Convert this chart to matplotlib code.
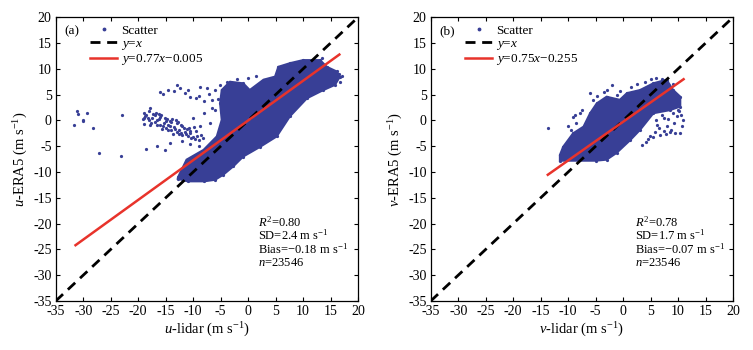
import matplotlib
matplotlib.use('Agg')
import matplotlib.pyplot as plt
from matplotlib.lines import Line2D

plt.rcParams['font.family'] = ['Liberation Serif', 'DejaVu Serif']
plt.rcParams['mathtext.fontset'] = 'custom'
plt.rcParams['mathtext.rm'] = 'Liberation Serif'
plt.rcParams['mathtext.it'] = 'Liberation Serif:italic'
plt.rcParams['axes.unicode_minus'] = False

# ---------------- data ----------------
ticks = [-35, -30, -25, -20, -15, -10, -5, 0, 5, 10, 15, 20]

# panel (a): dense core outline of u scatter
core_a_x = [-12.8, -12.7, -11.2, -8.1, -5.7, -4.8, -5.1, -4.8, -3.3, -0.9, 0.3, 2.8, 4.9, 5.5, 7.6,
            10.0, 13.1, 14.3, 16.1, 16.7, 15.8, 13.7, 10.7, 7.6, 5.2, 2.2, -0.9, -2.7, -4.5, -6.0,
            -8.0, -11.0]
core_a_y = [-11.3, -10.9, -7.6, -5.7, -3.1, 0.1, 3.3, 5.9, 7.5, 7.2, 5.9, 7.9, 8.5, 10.4, 11.1,
            11.7, 11.7, 10.4, 9.5, 8.5, 6.9, 5.9, 4.3, 0.8, -3.1, -5.1, -7.0, -8.9, -10.5, -11.5,
            -11.8, -11.8]
# panel (a): tongue of points left of the core
tongue_a_x = [-19.0, -19.0, -18.5, -18.0, -18.0, -17.5, -17.0, -17.0, -16.5, -16.0, -16.0, -15.5,
              -15.0, -15.0, -14.5, -14.0, -14.0, -13.5, -13.0, -13.0, -12.5, -12.0, -12.0, -11.5,
              -11.0, -17.8, -16.8, -15.8, -14.8, -13.8, -12.8, -10.5, -10.0, -9.5, -9.0, -8.5,
              -10.8, -9.8, -8.8, -18.7, -18.2, -17.3, -16.3, -15.3, -14.3, -13.3, -12.3, -11.3,
              -10.3, -9.3, -17.6, -16.6, -15.6, -14.6, -13.6, -12.6, -11.6, -10.6, -9.6, -8.2,
              -16.2, -15.2, -14.2, -13.2, -12.2, -11.2, -19.2, -18.9, -17.9]
tongue_a_y = [1.5, 0.5, 1.0, 0.0, 1.8, 0.5, -0.3, 1.0, 0.0, -0.8, 0.6, -1.0,
              -0.2, -1.5, -0.8, -1.8, -0.3, -1.2, -2.2, -0.5, -1.8, -2.8, -1.0, -2.2,
              -3.0, 2.4, 1.5, 1.0, 0.3, 0.2, -0.3, -2.5, -3.3, -2.0, -3.8, -2.8,
              -1.5, -1.2, -1.0, 0.9, 0.4, 1.3, 0.3, -0.5, -1.1, -1.6, -2.4, -2.6,
              -3.4, -3.0, -0.4, -0.9, -1.7, -1.9, -2.6, -2.6, -1.4, -2.0, -3.5, -3.4,
              1.2, 0.5, -0.1, 0.0, -0.8, -1.6, 0.2, -0.6, -0.9]
# panel (a): isolated points
pts_a_x = [-31.2, -30.9, -29.4, -30.0, -30.0, -31.7, -28.3, -23.0, -27.1, -23.1, -18.6, -16.5,
           -15.2, -14.2, -16.0, -14.5, -13.5, -12.4, -11.5, -10.5, -9.5, -8.7,
           -7.5, -6.6, -5.1, -3.8, -10.0, -8.0, -6.5, -7.0, -6.0, -5.5, -12.0, -10.5, -9.0,
           14.5, 15.2, 16.0, 16.6, 17.0, 15.5, 14.0, 16.8, 13.5, -2.0, 0.0, 1.5, -6.0, -7.2,
           -15.5, -13.0, -11.0, -9.0, -8.0]
pts_a_y = [1.9, 1.2, 1.5, 0.1, -0.2, -0.9, -1.4, 1.1, -6.3, -6.8, -5.5, -4.9,
           -5.8, -4.4, 5.6, 5.9, 5.7, 6.3, 5.4, 4.6, 4.3, 6.5,
           6.3, 4.0, 6.9, 7.5, 0.5, 1.5, 2.5, -0.5, 2.0, 4.2, -4.0, -4.5, -5.0,
           8.5, 9.2, 8.0, 9.0, 8.7, 7.2, 7.8, 7.5, 12.2, 8.0, 8.2, 8.6, 6.0, 5.2,
           5.2, 6.8, 6.0, 4.8, 3.8]

# panel (b): dense core outline of v scatter
core_b_x = [-11.5, -11.5, -10.9, -9.1, -7.2, -6.0, -4.8, -3.0, -0.6, 0.7, 3.1, 5.5, 7.9, 9.1,
            10.4, 10.4, 8.5, 5.5, 3.1, 1.3, -1.2, -3.0, -5.0]
core_b_y = [-7.8, -6.7, -5.1, -2.5, -1.2, 1.4, 3.3, 4.6, 4.0, 5.3, 5.9, 7.2, 7.9, 5.9,
            4.6, 2.7, 2.0, 1.4, -1.8, -3.8, -6.3, -7.6, -7.8]
pts_b_x = [-13.6, -9.1, -8.5, -7.8, -8.8, -7.4, -6.0, -5.5, -4.8, -4.2, -3.5, -2.9, -2.0, -1.2,
           -0.6, 1.5, 2.5, 4.0, 5.0, 6.0, 7.0, 8.0, 9.0, 10.0, 10.5, 10.9, 10.8, 10.3, 9.5,
           8.6, 7.5, 6.5, 6.0, 7.0, 8.0, 9.0, 5.5, 4.9, 6.2, 7.4, 8.2, 9.2, 9.8, 4.2, 3.5,
           -10.0, -9.5, 8.5, 9.5, 10.2, 6.8, 7.8, 8.8, 5.8, 4.5]
pts_b_y = [-1.5, 0.7, -0.5, 1.5, 1.0, 2.0, 5.3, 4.0, 4.8, 2.7, 5.5, 5.9, 6.8, 5.0,
           5.8, 6.5, 7.0, 7.5, 8.0, 8.2, 8.0, 7.6, 7.0, 2.0, 1.0, 0.0, -1.0, -2.5, -2.5,
           -2.3, -2.0, -1.5, 0.0, 1.0, -1.0, 1.5, -3.2, -3.0, -0.8, 0.5, 0.2, -0.5, 0.8, -4.2, -4.8,
           -1.0, -1.8, 3.5, 3.0, 1.8, -2.8, -2.6, -1.8, -2.2, -3.6]

# fitted lines
fit_a = dict(slope=0.77, icpt=-0.005, x=[-31.4, 16.6])
fit_b = dict(slope=0.75, icpt=-0.255, x=[-13.7, 11.0])

labels_a = dict(tag='(a)', fit=r'$y$=0.77$x$−0.005', comp='u',
                stats=[r'$R^2$=0.80', r'SD=2.4 m s$^{-1}$', r'Bias=−0.18 m s$^{-1}$', r'$n$=23546'])
labels_b = dict(tag='(b)', fit=r'$y$=0.75$x$−0.255', comp='v',
                stats=[r'$R^2$=0.78', r'SD=1.7 m s$^{-1}$', r'Bias=−0.07 m s$^{-1}$', r'$n$=23546'])

# ---------------- drawing ----------------
BLUE = '#383f96'
RED = '#e8332b'

fig = plt.figure(figsize=(7.53, 3.5), dpi=100)
ax_a = fig.add_axes([0.074, 0.14, 0.4015, 0.8106])
ax_b = fig.add_axes([0.572, 0.14, 0.4015, 0.8106])


def panel(ax, cx, cy, px, py, fit, lab, text_x):
    ax.fill(cx, cy, color=BLUE, lw=1.5, ec=BLUE, zorder=2)
    ax.plot(px, py, '.', color=BLUE, ms=2.6, zorder=2)
    ax.plot(cx, cy, '.', color=BLUE, ms=2.6, zorder=2)
    ax.plot(ticks[:1] + ticks[-1:], ticks[:1] + ticks[-1:], color='black', lw=2.0,
            dashes=(3.6, 2.4), zorder=3)
    fx = fit['x']
    fy = [fit['slope'] * v + fit['icpt'] for v in fx]
    ax.plot(fx, fy, color=RED, lw=1.8, zorder=4)

    ax.set_xlim(-35, 20)
    ax.set_ylim(-35, 20)
    ax.set_xticks(ticks)
    ax.set_yticks(ticks)
    ax.tick_params(direction='in', length=3, width=0.8, top=True, right=True,
                   labelsize=10, pad=3)
    for s in ax.spines.values():
        s.set_linewidth(0.9)
    c = lab['comp']
    ax.set_xlabel(r'$%s$-lidar (m s$^{-1}$)' % c, fontsize=10.5, labelpad=2)
    ax.set_ylabel(r'$%s$-ERA5 (m s$^{-1}$)' % c, fontsize=10.5, labelpad=2)

    ax.text(0.027, 0.95, lab['tag'], transform=ax.transAxes, fontsize=9.5, va='center')
    handles = [Line2D([], [], ls='none', marker='.', color=BLUE, ms=3.5),
               Line2D([], [], color='black', lw=2.0, dashes=(3.6, 2.4)),
               Line2D([], [], color=RED, lw=1.8)]
    ax.legend(handles, ['Scatter', r'$y$=$x$', lab['fit']], loc='upper left',
              bbox_to_anchor=(0.115, 0.975), frameon=False, fontsize=9.5,
              handlelength=2.0, handletextpad=0.3, labelspacing=0.05,
              borderpad=0, borderaxespad=0)
    for i, t in enumerate(lab['stats']):
        ax.text(text_x, 0.278 - i * 0.048, t, transform=ax.transAxes,
                fontsize=9, va='center', ha='left')


panel(ax_a, core_a_x, core_a_y, pts_a_x + tongue_a_x, pts_a_y + tongue_a_y, fit_a, labels_a, 0.669)
panel(ax_b, core_b_x, core_b_y, pts_b_x, pts_b_y, fit_b, labels_b, 0.676)

fig.savefig('out.png', dpi=100)
